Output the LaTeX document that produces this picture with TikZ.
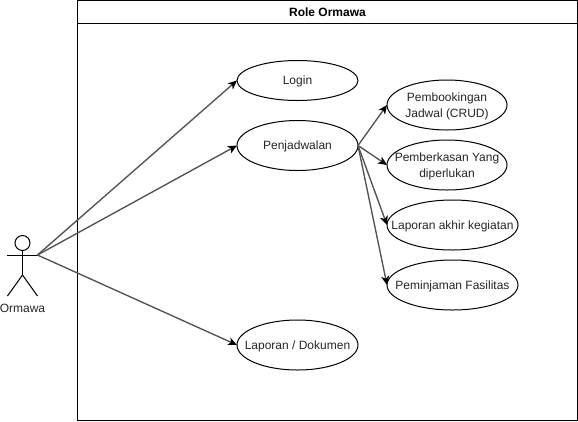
\documentclass[tikz,border=0pt]{standalone}
\usepackage{fontspec}
\setmainfont{Liberation Sans}
\usetikzlibrary{shapes.geometric,arrows.meta}
\newcommand{\ztext}[1]{\makebox[0pt][c]{\raisebox{-4.2pt}[0pt][0pt]{\begin{tabular}{@{}c@{}}#1\end{tabular}}}}
\tikzset{
  uc/.style={draw=black,fill=white,ellipse,line width=1pt,inner sep=0pt,outer sep=0pt,font=\fontsize{12}{15.5}\selectfont,text=black!85},
  ucs/.style={uc,minimum width=121pt,minimum height=50pt},
  ucw/.style={uc,minimum width=131pt,minimum height=50pt},
  conn/.style={draw=black!68,line width=1.35pt,-{Stealth[length=9pt,width=8pt,inset=2.5pt,color=black]}},
  stick/.style={draw=black,line width=1pt}
}
\begin{document}
\begin{tikzpicture}[x=1pt,y=-1pt]
\useasboundingbox (0,0) rectangle (578,421);
\node[draw=black,line width=1pt,minimum width=500pt,minimum height=420pt,inner sep=0pt,outer sep=0pt] (frame) at (327.5,210.5) {};
\node[draw=black,line width=1pt,minimum width=500pt,minimum height=23pt,inner sep=0pt,outer sep=0pt,font=\fontsize{12}{14}\selectfont\bfseries] (title) at (327.5,12) {Role Ormawa};
% actor
\node[draw=black,line width=1pt,circle,minimum size=15pt,inner sep=0pt,outer sep=0pt] (head) at (22.5,243) {};
\coordinate (neck) at (22.5,275);
\coordinate (handl) at (7,255);
\coordinate (handr) at (37.5,255);
\coordinate (footl) at (7.5,296);
\coordinate (footr) at (37.5,296);
\draw[stick] (head.south) -- (neck);
\draw[stick] (handl) -- (handr);
\draw[stick] (footl) -- (neck) -- (footr);
\node[font=\fontsize{12}{14}\selectfont,text=black!85] (actor) at (22.5,308.5) {Ormawa};
% use cases
\node[uc,minimum width=121pt,minimum height=40pt] (login) at (297.5,80.5) {\ztext{Login}};
\node[ucs] (jadwal) at (297.5,145.5) {\ztext{Penjadwalan}};
\node[ucs] (lapdok) at (297.5,345) {\ztext{Laporan / Dokumen}};
\node[uc,minimum width=120pt,minimum height=50pt] (booking) at (447,105) {\ztext{Pembookingan\\Jadwal (CRUD)}};
\node[uc,minimum width=120pt,minimum height=50pt] (berkas) at (447,165) {\ztext{Pemberkasan Yang\\diperlukan}};
\node[ucw] (akhir) at (452.5,225) {\ztext{Laporan akhir kegiatan}};
\node[ucw] (pinjam) at (452.5,285) {\ztext{Peminjaman Fasilitas}};
% connectors
\draw[conn] (handr) -- (login.west);
\draw[conn] (handr) -- (jadwal.west);
\draw[conn] (handr) -- (lapdok.west);
\draw[conn] (jadwal.east) -- (booking.west);
\draw[conn] (jadwal.east) -- (berkas.west);
\draw[conn] (jadwal.east) -- (akhir.west);
\draw[conn] (jadwal.east) -- (pinjam.west);
\end{tikzpicture}
\end{document}
